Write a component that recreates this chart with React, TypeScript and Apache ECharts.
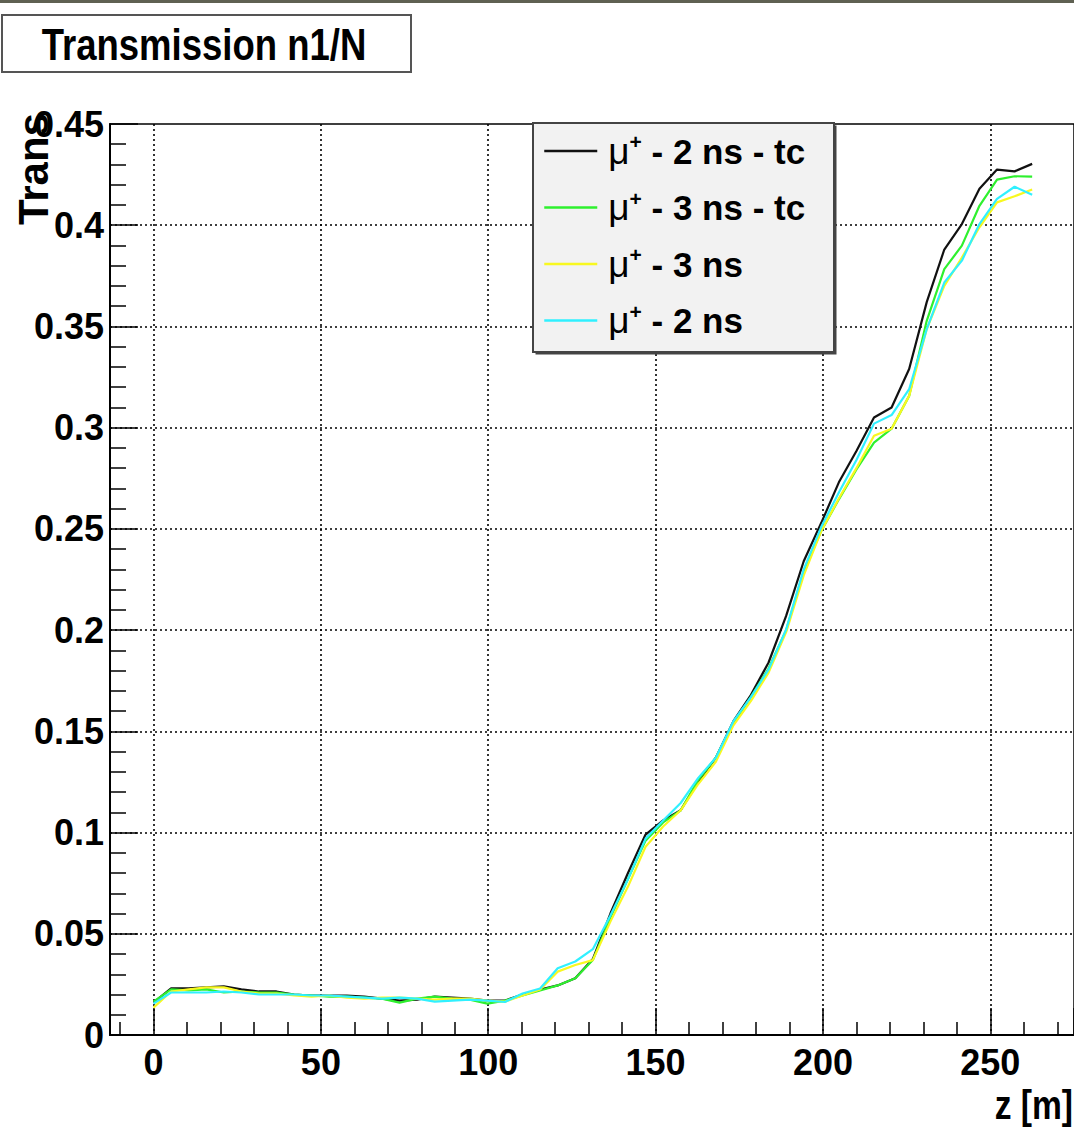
import React, { useEffect, useRef } from "react";
import * as echarts from "echarts";

const zPositions = [
  0, 5.25, 10.5, 15.75, 21, 26.25, 31.5, 36.75, 42, 47.25,
  52.5, 57.75, 63, 68.25, 73.5, 78.75, 84, 89.25, 94.5, 99.75,
  105, 110.25, 115.5, 120.75, 126, 131.25, 136.5, 141.75, 147, 152.25,
  157.5, 162.75, 168, 173.25, 178.5, 183.75, 189, 194.25, 199.5, 204.75,
  210, 215.25, 220.5, 225.75, 231, 236.25, 241.5, 246.75, 252, 257.25, 262.5,
];

const trans2nsTc = [
  0.016, 0.023, 0.023, 0.0235, 0.024, 0.0225, 0.0215, 0.0215, 0.02, 0.0195,
  0.0195, 0.0195, 0.019, 0.018, 0.017, 0.0175, 0.019, 0.0185, 0.018, 0.017,
  0.017, 0.02, 0.0225, 0.0245, 0.028, 0.0375, 0.06, 0.08, 0.099, 0.106,
  0.111, 0.125, 0.137, 0.155, 0.168, 0.184, 0.207, 0.234, 0.253, 0.273,
  0.2885, 0.305, 0.31, 0.329, 0.362, 0.388, 0.4006, 0.418, 0.4275, 0.4266, 0.4303,
];

const trans3nsTc = [
  0.0165, 0.0225, 0.022, 0.0225, 0.021, 0.0215, 0.021, 0.021, 0.02, 0.0195,
  0.019, 0.019, 0.0185, 0.018, 0.016, 0.018, 0.019, 0.018, 0.0175, 0.0155,
  0.017, 0.0195, 0.022, 0.0245, 0.028, 0.037, 0.058, 0.077, 0.096, 0.105,
  0.111, 0.126, 0.137, 0.154, 0.167, 0.181, 0.2, 0.229, 0.249, 0.2646,
  0.2794, 0.2926, 0.2995, 0.3157, 0.3528, 0.3783, 0.3899, 0.4096, 0.4225, 0.4242, 0.424,
];

const trans3ns = [
  0.0135, 0.0215, 0.0225, 0.0235, 0.0235, 0.0215, 0.0205, 0.0205, 0.0195, 0.019,
  0.0195, 0.0185, 0.018, 0.0185, 0.0185, 0.018, 0.0175, 0.018, 0.018, 0.017,
  0.0165, 0.0195, 0.0225, 0.0313, 0.0346, 0.037, 0.056, 0.0733, 0.093, 0.103,
  0.111, 0.124, 0.135, 0.153, 0.165, 0.179, 0.199, 0.227, 0.249, 0.265,
  0.28, 0.296, 0.2995, 0.3157, 0.3487, 0.37, 0.384, 0.399, 0.4113, 0.4143, 0.4176,
];

const trans2ns = [
  0.0155, 0.021, 0.021, 0.021, 0.0215, 0.021, 0.02, 0.02, 0.02, 0.0195,
  0.0195, 0.019, 0.0185, 0.018, 0.0185, 0.018, 0.0165, 0.017, 0.0175, 0.017,
  0.0163, 0.0205, 0.023, 0.033, 0.0363, 0.0424, 0.059, 0.077, 0.097, 0.106,
  0.1146, 0.127, 0.137, 0.155, 0.167, 0.1805, 0.2003, 0.23, 0.251, 0.268,
  0.284, 0.302, 0.3062, 0.319, 0.3487, 0.3717, 0.3825, 0.4006, 0.413, 0.419, 0.415,
];

const seriesNames = ["μ+ - 2 ns - tc", "μ+ - 3 ns - tc", "μ+ - 3 ns", "μ+ - 2 ns"];
const seriesColors = ["#111111", "#2ef02e", "#f8f820", "#30f0ff"];
const yTickLabels = ["0", "0.05", "0.1", "0.15", "0.2", "0.25", "0.3", "0.35", "0.4", "0.45"];

const SANS = "'Liberation Sans', Arial, Helvetica, sans-serif";

export default function App() {
  const ref = useRef<HTMLDivElement>(null);

  useEffect(() => {
    document.body.style.margin = "0";
    const chart = echarts.init(ref.current!, null, { renderer: "svg" });
    const allData = [trans2nsTc, trans3nsTc, trans3ns, trans2ns];
    const series = allData.map((vals, k) => ({
      name: seriesNames[k],
      type: "line",
      data: zPositions.map((z, i) => [z, vals[i]]),
      symbol: "none",
      showSymbol: false,
      lineStyle: { color: seriesColors[k], width: 2.2 },
      itemStyle: { color: seriesColors[k] },
      z: 2 + k * 0.01,
      clip: true,
    }));

    const dotted = { color: "#000", type: [2, 3], width: 1.6 };

    chart.setOption({
      animation: false,
      backgroundColor: "#ffffff",
      grid: {
        left: 110,
        top: 124,
        right: 0,
        bottom: 94,
        show: true,
        borderColor: "#000",
        borderWidth: 1.5,
        backgroundColor: "transparent",
      },
      xAxis: {
        type: "value",
        min: -13,
        max: 275,
        splitNumber: 6,
        axisLine: { show: true, onZero: false, lineStyle: { color: "#000", width: 2 } },
        axisTick: { show: true, inside: true, length: 27, lineStyle: { color: "#000", width: 1.5 } },
        minorTick: { show: true, splitNumber: 5, length: 13, lineStyle: { color: "#000", width: 1.5 } },
        splitLine: { show: true, showMinLine: false, showMaxLine: false, lineStyle: dotted },
        axisLabel: {
          margin: 9,
          fontFamily: SANS,
          fontSize: 36,
          fontWeight: "bold",
          color: "#000",
          showMinLabel: false,
          showMaxLabel: false,
        },
      },
      yAxis: {
        type: "value",
        min: 0,
        max: 0.45,
        interval: 0.05,
        axisLine: { show: true, onZero: false, lineStyle: { color: "#000", width: 2 } },
        axisTick: { show: true, inside: true, length: 28, lineStyle: { color: "#000", width: 1.5 } },
        minorTick: { show: true, splitNumber: 5, length: 16, lineStyle: { color: "#000", width: 1.5 } },
        splitLine: { show: true, showMinLine: false, showMaxLine: false, lineStyle: dotted },
        axisLabel: {
          margin: 6,
          fontFamily: SANS,
          fontSize: 36,
          fontWeight: "bold",
          color: "#000",
          formatter: (v: number) => yTickLabels[Math.round(v / 0.05)] ?? String(v),
        },
      },
      legend: {
        orient: "vertical",
        left: 533,
        top: 123,
        padding: [8, 10, 11, 10],
        itemGap: 18,
        itemWidth: 53,
        itemHeight: 40,
        selectedMode: false,
        backgroundColor: "transparent",
        borderWidth: 0,
        z: 6,
        data: seriesNames,
        itemStyle: { opacity: 0, color: "rgba(0,0,0,0)", borderColor: "rgba(0,0,0,0)", borderWidth: 0 },
        lineStyle: { width: 2.5 },
        formatter: (name: string) => `{mu|μ}{sup|+}{b|${name.slice(2)}}`,
        textStyle: {
          fontFamily: SANS,
          fontSize: 35,
          fontWeight: "bold",
          color: "#000",
          rich: {
            mu: { fontFamily: SANS, fontSize: 37, fontWeight: "normal", color: "#000", padding: [0, 0, 0, 6], lineHeight: 40 },
            sup: { fontFamily: SANS, fontSize: 21, fontWeight: "bold", color: "#000", verticalAlign: "top", lineHeight: 22 },
            b: { fontFamily: SANS, fontSize: 35, fontWeight: "bold", color: "#000", lineHeight: 40 },
          },
        },
      },
      graphic: [
        { type: "rect", z: 10, shape: { x: 0, y: 0, width: 1074, height: 3 }, style: { fill: "#5f6152" } },
        {
          type: "rect",
          z: 10,
          shape: { x: 2, y: 15, width: 409, height: 57 },
          style: { fill: "#ffffff", stroke: "#555", lineWidth: 2 },
        },
        {
          type: "text",
          z: 11,
          x: 204,
          y: 45,
          scaleX: 0.83,
          style: {
            text: "Transmission n1/N",
            fontFamily: SANS,
            fontSize: 44,
            fontWeight: "bold",
            fill: "#000",
            align: "center",
            verticalAlign: "middle",
          },
        },
        {
          type: "rect",
          z: 4,
          shape: { x: 535.5, y: 125.5, width: 301, height: 229 },
          style: { fill: "#444" },
        },
        {
          type: "rect",
          z: 4,
          shape: { x: 533, y: 123, width: 301, height: 229 },
          style: { fill: "#f2f2f2", stroke: "#444", lineWidth: 2 },
        },
        {
          type: "text",
          z: 11,
          x: 33,
          y: 113,
          rotation: Math.PI / 2,
          style: {
            text: "Trans",
            fontFamily: SANS,
            fontSize: 42,
            fontWeight: "bold",
            fill: "#000",
            align: "right",
            verticalAlign: "middle",
          },
        },
        {
          type: "text",
          z: 11,
          x: 1073,
          y: 1105,
          scaleX: 0.84,
          style: {
            text: "z [m]",
            fontFamily: SANS,
            fontSize: 40,
            fontWeight: "bold",
            fill: "#000",
            align: "right",
            verticalAlign: "middle",
          },
        },
      ],
      series,
    });
    return () => chart.dispose();
  }, []);

  return (
    <div
      ref={ref}
      style={{ position: "absolute", left: 0, top: 0, width: 1074, height: 1129, background: "#fff" }}
    />
  );
}
